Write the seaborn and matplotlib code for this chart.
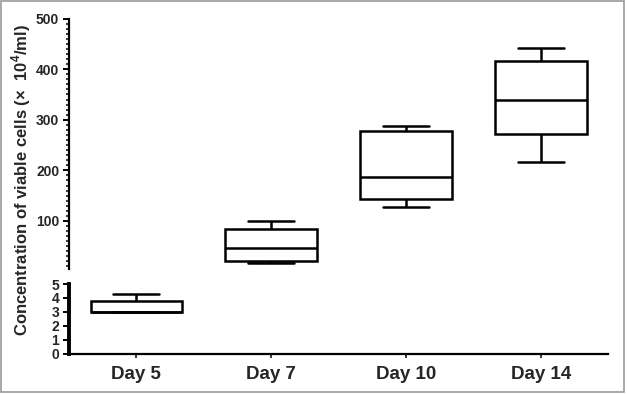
import numpy as np
import pandas as pd
import matplotlib
matplotlib.use("Agg")
import matplotlib.pyplot as plt
import matplotlib.patches as mpatches
from matplotlib.ticker import MultipleLocator
import seaborn as sns

# five-number summaries: min, Q1, median, Q3, max
days = ["Day 5", "Day 7", "Day 10", "Day 14"]
day5 = [3.0, 3.0, 3.0, 3.8, 4.25]
day7 = [17, 21, 46, 85, 99]
day10 = [128, 143, 186, 278, 288]
day14 = [216, 272, 340, 416, 441]

y_label = "Concentration of viable cells (\u00d7  10$^{\\mathbf{4}}$/ml)"


def main() -> None:
    sns.set_style("white")
    plt.rcParams["font.family"] = ["Liberation Sans", "DejaVu Sans"]
    plt.rcParams["font.weight"] = "bold"
    plt.rcParams["mathtext.fontset"] = "custom"
    plt.rcParams["mathtext.bf"] = "Liberation Sans:bold"
    plt.rcParams["mathtext.rm"] = "Liberation Sans"

    df = pd.DataFrame({
        "day": ["Day 5"] * 5 + ["Day 7"] * 5 + ["Day 10"] * 5 + ["Day 14"] * 5,
        "value": day5 + day7 + day10 + day14,
    })
    df_low = df[df["day"] == "Day 5"]
    df_high = df[df["day"] != "Day 5"]

    fig = plt.figure(figsize=(6.27, 3.95), dpi=100)
    ax_top = fig.add_axes([0.110, 0.319, 0.860, 0.634])
    ax_bot = fig.add_axes([0.110, 0.104, 0.860, 0.177])

    box_kws = dict(
        x="day", y="value", order=days, whis=(0, 100), width=0.68,
        color="white", linecolor="black", linewidth=1.8, showfliers=False,
    )
    sns.boxplot(data=df_high, ax=ax_top, **box_kws)
    sns.boxplot(data=df_low, ax=ax_bot, **box_kws)

    for ax in (ax_top, ax_bot):
        ax.set_xlim(-0.5, 3.5)
        ax.set_xlabel("")
        ax.set_ylabel("")
        for s in ("top", "right"):
            ax.spines[s].set_visible(False)

    # upper segment
    ax_top.set_ylim(5, 500)
    ax_top.set_yticks([100, 200, 300, 400, 500])
    ax_top.yaxis.set_minor_locator(MultipleLocator(10))
    ax_top.spines["bottom"].set_visible(False)
    ax_top.spines["left"].set_linewidth(1.6)
    ax_top.spines["left"].set_color("black")
    ax_top.tick_params(axis="x", bottom=False, labelbottom=False)
    ax_top.tick_params(axis="y", which="major", left=True, length=4, width=1.4,
                       color="black", labelsize=10, pad=3)
    ax_top.tick_params(axis="y", which="minor", left=True, length=2.5, width=1.1,
                       color="black")

    # lower segment
    ax_bot.set_ylim(0, 5)
    ax_bot.set_yticks([0, 1, 2, 3, 4, 5])
    ax_bot.spines["left"].set_linewidth(2.8)
    ax_bot.spines["bottom"].set_linewidth(1.6)
    ax_bot.spines["left"].set_color("black")
    ax_bot.spines["bottom"].set_color("black")
    ax_bot.tick_params(axis="y", left=True, length=4, width=1.4, color="black",
                       labelsize=10, pad=3)
    ax_bot.tick_params(axis="x", bottom=True, length=3, width=1.1, color="black",
                       labelsize=13.5, pad=6)
    for lbl in ax_top.get_yticklabels() + ax_bot.get_yticklabels() + ax_bot.get_xticklabels():
        lbl.set_fontweight("bold")

    fig.text(0.034, 0.543, y_label, rotation=90, ha="center", va="center",
             fontsize=12, fontweight="bold")

    # light grey frame round the figure
    fig.patches.append(mpatches.Rectangle(
        (0.002, 0.007), 0.994, 0.99, transform=fig.transFigure,
        fill=False, edgecolor="#9a9a9a", linewidth=1.2))

    fig.savefig("out.png", dpi=100)
    plt.close(fig)


if __name__ == "__main__":
    main()
